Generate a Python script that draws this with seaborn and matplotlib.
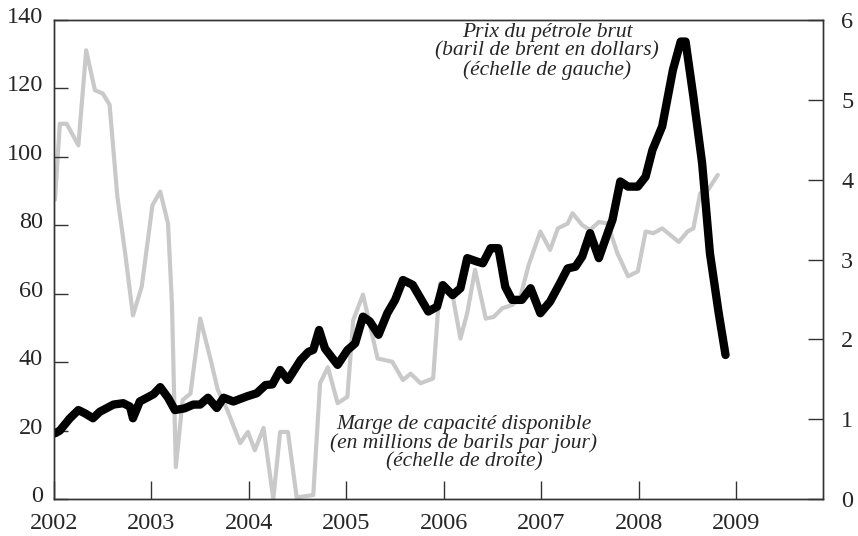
import matplotlib
matplotlib.use("Agg")
import matplotlib.pyplot as plt
import matplotlib.transforms as mtransforms
import seaborn as sns

sns.set_style("white")
plt.rcParams['font.family'] = ['Liberation Serif', 'DejaVu Serif']

# Prix du pétrole brut (baril de brent, dollars)
annees_brent = [2002.01, 2002.06, 2002.16, 2002.25, 2002.32, 2002.40, 2002.47, 2002.61, 2002.71, 2002.78,
                2002.81, 2002.88, 2003.02, 2003.09, 2003.17, 2003.24, 2003.34, 2003.43, 2003.50, 2003.58,
                2003.67, 2003.74, 2003.84, 2003.98, 2004.08, 2004.17, 2004.24, 2004.32, 2004.40, 2004.53,
                2004.61, 2004.66, 2004.72, 2004.78, 2004.91, 2005.01, 2005.09, 2005.17, 2005.24, 2005.33,
                2005.42, 2005.50, 2005.58, 2005.68, 2005.76, 2005.84, 2005.93, 2005.99, 2006.09, 2006.17,
                2006.24, 2006.34, 2006.40, 2006.48, 2006.56, 2006.63, 2006.70, 2006.80, 2006.89, 2006.99,
                2007.09, 2007.19, 2007.27, 2007.35, 2007.42, 2007.50, 2007.59, 2007.68, 2007.73, 2007.81,
                2007.89, 2007.99, 2008.07, 2008.14, 2008.24, 2008.35, 2008.43, 2008.48, 2008.56, 2008.65,
                2008.73, 2008.82, 2008.89]
brent = [19.2, 20.0, 23.5, 26.0, 25.0, 23.6, 25.5, 27.6, 28.0, 27.0,
         23.6, 28.5, 30.6, 32.7, 29.6, 26.0, 26.5, 27.6, 27.6, 29.6,
         26.6, 29.6, 28.5, 30.0, 30.9, 33.3, 33.5, 37.7, 34.8, 40.6,
         43.0, 43.6, 49.4, 44.0, 39.2, 43.5, 45.5, 53.3, 51.9, 48.0,
         54.3, 58.2, 64.0, 62.6, 58.7, 54.8, 56.2, 62.5, 59.6, 61.6,
         70.4, 69.4, 68.9, 73.3, 73.3, 62.0, 58.2, 58.2, 61.6, 54.3,
         57.7, 63.0, 67.4, 67.9, 70.9, 77.7, 70.4, 77.7, 81.6, 92.8,
         91.3, 91.3, 94.2, 102.0, 108.9, 125.4, 133.7, 133.7, 117.6, 98.1,
         71.8, 54.3, 42.1]

# Marge de capacité disponible (millions de barils par jour)
annees_marge = [2002.01, 2002.06, 2002.13, 2002.25, 2002.33, 2002.42, 2002.50, 2002.57, 2002.65, 2002.73,
                2002.81, 2002.90, 2003.01, 2003.09, 2003.17, 2003.21, 2003.25, 2003.32, 2003.40, 2003.50,
                2003.60, 2003.68, 2003.78, 2003.91, 2003.99, 2004.06, 2004.15, 2004.25, 2004.32, 2004.40,
                2004.49, 2004.66, 2004.73, 2004.81, 2004.91, 2005.01, 2005.07, 2005.17, 2005.32, 2005.47,
                2005.58, 2005.66, 2005.76, 2005.89, 2005.96, 2006.09, 2006.17, 2006.24, 2006.32, 2006.43,
                2006.51, 2006.60, 2006.70, 2006.78, 2006.87, 2006.99, 2007.09, 2007.17, 2007.27, 2007.32,
                2007.42, 2007.50, 2007.59, 2007.68, 2007.78, 2007.89, 2007.99, 2008.07, 2008.15, 2008.24,
                2008.32, 2008.41, 2008.50, 2008.56, 2008.63, 2008.71, 2008.81]
marge = [3.75, 4.70, 4.70, 4.43, 5.62, 5.12, 5.08, 4.94, 3.79, 3.08,
         2.30, 2.66, 3.68, 3.85, 3.45, 2.45, 0.40, 1.24, 1.32, 2.26,
         1.78, 1.37, 1.11, 0.70, 0.84, 0.61, 0.89, 0.00, 0.84, 0.84,
         0.02, 0.05, 1.45, 1.65, 1.20, 1.28, 2.24, 2.56, 1.76, 1.72,
         1.49, 1.57, 1.45, 1.51, 2.70, 2.55, 2.01, 2.33, 2.87, 2.26,
         2.28, 2.39, 2.43, 2.51, 2.93, 3.35, 3.12, 3.39, 3.45, 3.58,
         3.43, 3.37, 3.47, 3.45, 3.08, 2.79, 2.85, 3.35, 3.33, 3.39,
         3.31, 3.22, 3.35, 3.39, 3.83, 3.87, 4.06]

annees_ticks = list(range(2002, 2010))
ticks_gauche = list(range(0, 141, 20))
ticks_droite = list(range(0, 7))

fig, ax = plt.subplots(figsize=(8.58, 5.36), dpi=100)
fig.subplots_adjust(left=54 / 858, right=823 / 858, top=1 - 20 / 536, bottom=1 - 499 / 536)
ax2 = ax.twinx()

sns.lineplot(x=annees_marge, y=marge, ax=ax2, color='#c9c9c9', linewidth=3)
sns.lineplot(x=annees_brent, y=brent, ax=ax, color='black', linewidth=6)

# courbe noire au-dessus de la grise
ax.set_zorder(ax2.get_zorder() + 1)
ax.patch.set_visible(False)

ax.set_xlim(2002, 2009.89)
ax.set_ylim(0, 140)
ax2.set_ylim(0, 6)
ax.set_xticks(annees_ticks)
ax.set_xticklabels([str(a) for a in annees_ticks])
ax.set_yticks(ticks_gauche)
ax2.set_yticks(ticks_droite)
ax.set_xlabel('')
ax.set_ylabel('')
ax2.set_ylabel('')

couleur_axe = '#333333'
ax.tick_params(axis='x', direction='in', length=13, width=1, color=couleur_axe, pad=10,
               labelsize=17.5, bottom=True)
ax.tick_params(axis='y', direction='in', length=10, width=1, color=couleur_axe, pad=8,
               labelsize=17.5, left=True)
ax2.tick_params(axis='y', direction='in', length=11, width=1, color=couleur_axe, pad=13,
                labelsize=17.5, right=True)
for a in (ax, ax2):
    for sp in a.spines.values():
        sp.set_color(couleur_axe)
        sp.set_linewidth(1)

decalage = mtransforms.ScaledTranslation(0, 5 / 100, fig.dpi_scale_trans)
for lbl in ax.get_yticklabels():
    lbl.set_transform(lbl.get_transform() + decalage)

ax.text(0.641, 0.934, "Prix du pétrole brut\n(baril de brent en dollars)\n(échelle de gauche)",
        transform=ax.transAxes, ha='center', va='center', style='italic', fontsize=15.5,
        linespacing=0.95)
ax.text(0.533, 0.117, "Marge de capacité disponible\n(en millions de barils par jour)\n(échelle de droite)",
        transform=ax.transAxes, ha='center', va='center', style='italic', fontsize=15.5,
        linespacing=0.95)

fig.savefig('out.png', dpi=100)
